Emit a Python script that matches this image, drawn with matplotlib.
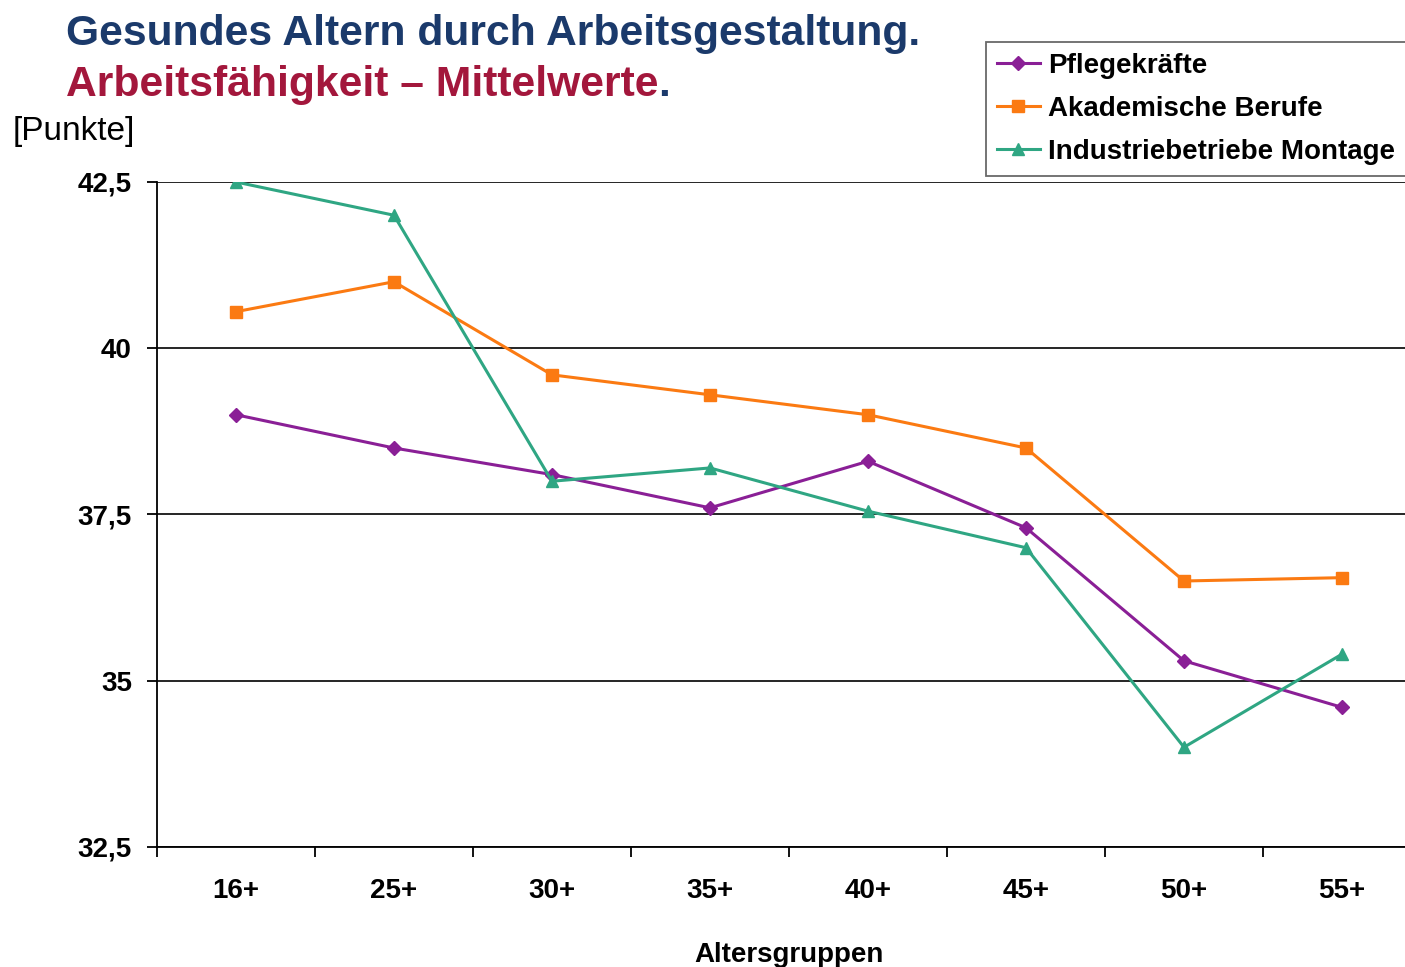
import matplotlib.pyplot as plt

plt.rcParams['font.family'] = ['Liberation Sans', 'DejaVu Sans']

groups = ['16+', '25+', '30+', '35+', '40+', '45+', '50+', '55+']
pflege = [39.0, 38.5, 38.1, 37.6, 38.3, 37.3, 35.3, 34.6]
akademisch = [40.55, 41.0, 39.6, 39.3, 39.0, 38.5, 36.5, 36.55]
industrie = [42.5, 42.0, 38.0, 38.2, 37.55, 37.0, 34.0, 35.4]
yticks = [32.5, 35, 37.5, 40, 42.5]
ytick_labels = ['32,5', '35', '37,5', '40', '42,5']

navy = '#1b3a6b'
red = '#a3173c'

fig = plt.figure(figsize=(14.05, 9.67), dpi=100)
ax = fig.add_axes([0.1117, 0.1241, 0.8997, 0.6877])

x = list(range(len(groups)))
ax.plot(x, pflege, color='#8a1f96', lw=2.2, marker='D', ms=7, label='Pflegekräfte', zorder=3)
ax.plot(x, akademisch, color='#fb7a12', lw=2.2, marker='s', ms=8, label='Akademische Berufe', zorder=3)
ax.plot(x, industrie, color='#2fa683', lw=2.2, marker='^', ms=9, label='Industriebetriebe Montage', zorder=3)

ax.set_xlim(-0.5, len(groups) - 0.5)
ax.set_ylim(32.5, 42.5)
ax.set_yticks(yticks)
ax.set_yticklabels(ytick_labels, fontsize=20, fontweight='bold')
ax.set_xticks(x)
ax.set_xticklabels(groups, fontsize=20, fontweight='bold')
ax.tick_params(axis='x', length=0, pad=22)
ax.tick_params(axis='y', length=7, width=1.3, pad=11)
ax.set_xticks([i - 0.5 for i in range(len(groups) + 1)], minor=True)
ax.tick_params(axis='x', which='minor', length=7, width=1.3)
ax.grid(axis='y', color='black', lw=1.2)
for s in ['top', 'right']:
    ax.spines[s].set_visible(False)
ax.spines['left'].set_linewidth(1.3)
ax.spines['bottom'].set_linewidth(1.3)
ax.set_xlabel('Altersgruppen', fontsize=20, fontweight='bold', labelpad=28)

leg = fig.legend(loc='upper left', bbox_to_anchor=(0.7015, 0.957),
                 prop={'weight': 'bold', 'size': 20}, frameon=True, fancybox=False,
                 edgecolor='#444444', handlelength=1.55, handletextpad=0.3,
                 labelspacing=0.62, borderpad=0.4, borderaxespad=0)
leg.get_frame().set_linewidth(1.3)

fig.text(0.047, 0.953, 'Gesundes Altern durch Arbeitsgestaltung.', color=navy,
         fontsize=30.7, fontweight='bold', va='baseline')
t = fig.text(0.047, 0.901, 'Arbeitsfähigkeit – Mittelwerte', color=red,
             fontsize=30.7, fontweight='bold', va='baseline')
fig.canvas.draw()
bb = t.get_window_extent()
fig.text(bb.x1 / fig.bbox.width, 0.901, '.', color=navy, fontsize=30.7,
         fontweight='bold', va='baseline')
fig.text(0.009, 0.855, '[Punkte]', fontsize=24, va='baseline')

fig.savefig('out.png', dpi=100)
